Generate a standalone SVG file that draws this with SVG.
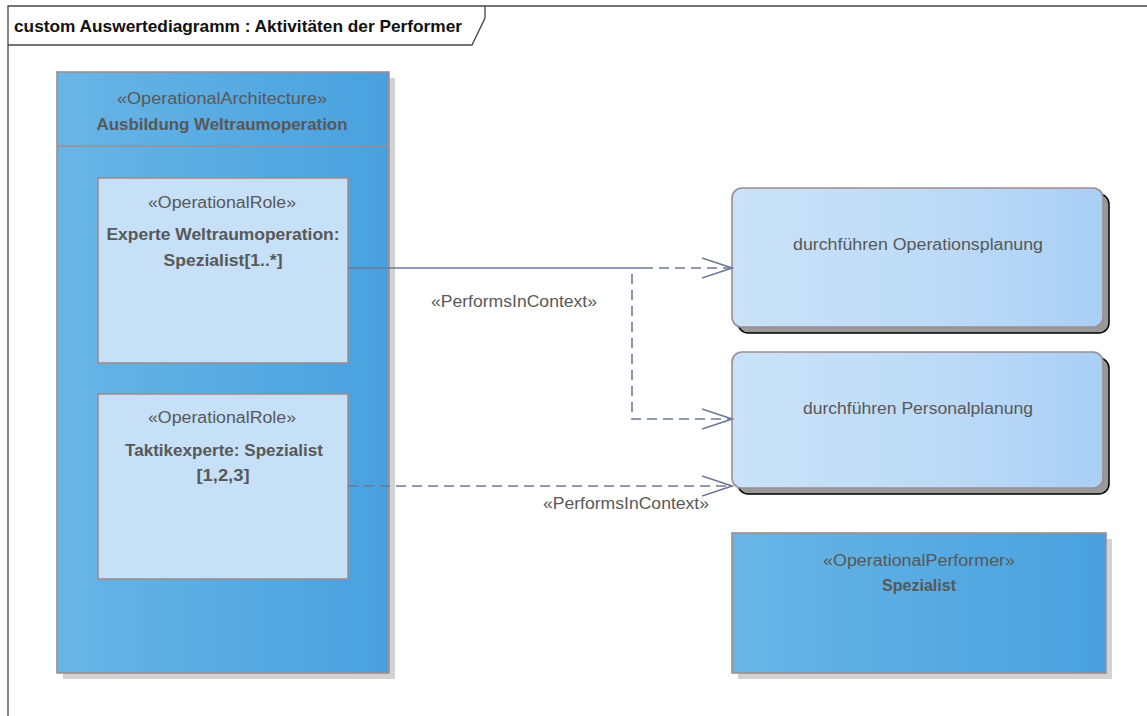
<svg xmlns="http://www.w3.org/2000/svg" width="1147" height="716" viewBox="0 0 1147 716">
<defs>
<linearGradient id="gBlue" x1="0" y1="0" x2="1" y2="0">
<stop offset="0" stop-color="#69b5e6"/>
<stop offset="1" stop-color="#48a1de"/>
</linearGradient>
<linearGradient id="gLight" x1="0" y1="0" x2="1" y2="0">
<stop offset="0" stop-color="#c9e2f8"/>
<stop offset="0.6" stop-color="#bcdaf7"/>
<stop offset="1" stop-color="#a9cff5"/>
</linearGradient>
<marker id="open" markerWidth="32" markerHeight="24" refX="30" refY="11" orient="auto" markerUnits="userSpaceOnUse">
<path d="M0,1 L30,11 L0,21" fill="none" stroke="#6b7899" stroke-width="1.6"/>
</marker>
</defs>
<style>
text{font-family:"Liberation Sans",Arial,sans-serif;font-size:16px;fill:#585858}
.b{font-weight:bold}
.c{text-anchor:middle}
.box{stroke:#a08c8e;stroke-width:1.6}
.shL{fill:#d2d2d2}
.shD{fill:#999;stroke:#000;stroke-width:1.5}
.con{fill:none;stroke:#6b7899;stroke-width:1.6}
.dash{stroke-dasharray:10 6}
</style>
<rect width="1147" height="716" fill="#fff"/>
<g id="frame">
<path d="M8,716 V6 H1147" fill="none" stroke="#444" stroke-width="1.3"/>
<path d="M8,45 H472 L485,18 V6" fill="none" stroke="#444" stroke-width="1.3"/>
<text x="14" y="32" class="b" style="fill:#111;font-size:16.5px" textLength="448" lengthAdjust="spacingAndGlyphs">custom Auswertediagramm : Aktivitäten der Performer</text>
</g>
<g id="arch">
<rect x="63" y="78" width="332" height="601" class="shL"/>
<rect x="57" y="72" width="332" height="601" fill="url(#gBlue)" class="box"/>
<line x1="57" y1="146" x2="389" y2="146" class="box"/>
<text x="222" y="104" class="c" textLength="210" lengthAdjust="spacingAndGlyphs">«OperationalArchitecture»</text>
<text x="222" y="130" class="c b" textLength="251" lengthAdjust="spacingAndGlyphs">Ausbildung Weltraumoperation</text>
</g>
<g id="role1">
<rect x="98" y="178" width="250" height="185" fill="#c6e0f8" class="box"/>
<text x="222" y="208" class="c" textLength="148" lengthAdjust="spacingAndGlyphs">«OperationalRole»</text>
<text x="223" y="240" class="c b" textLength="233" lengthAdjust="spacingAndGlyphs">Experte Weltraumoperation:</text>
<text x="223" y="266" class="c b" textLength="119" lengthAdjust="spacingAndGlyphs">Spezialist[1..*]</text>
</g>
<g id="role2">
<rect x="98" y="394" width="250" height="185" fill="#c6e0f8" class="box"/>
<text x="222" y="423" class="c" textLength="148" lengthAdjust="spacingAndGlyphs">«OperationalRole»</text>
<text x="224" y="456" class="c b" textLength="198" lengthAdjust="spacingAndGlyphs">Taktikexperte: Spezialist</text>
<text x="223" y="481" class="c b" textLength="53" lengthAdjust="spacingAndGlyphs">[1,2,3]</text>
</g>
<g id="act1">
<rect x="738" y="194" width="371" height="139" rx="10" class="shD"/>
<rect x="732" y="188" width="371" height="139" rx="10" fill="url(#gLight)" class="box"/>
<text x="918" y="250" class="c" textLength="250" lengthAdjust="spacingAndGlyphs">durchführen Operationsplanung</text>
</g>
<g id="act2">
<rect x="738" y="358" width="371" height="136" rx="10" class="shD"/>
<rect x="732" y="352" width="371" height="136" rx="10" fill="url(#gLight)" class="box"/>
<text x="918" y="414" class="c" textLength="230" lengthAdjust="spacingAndGlyphs">durchführen Personalplanung</text>
</g>
<g id="performer">
<rect x="738" y="539" width="374" height="140" class="shL"/>
<rect x="732" y="533" width="374" height="140" fill="url(#gBlue)" class="box"/>
<text x="919" y="566" class="c" textLength="192" lengthAdjust="spacingAndGlyphs">«OperationalPerformer»</text>
<text x="919" y="591" class="c b" textLength="74" lengthAdjust="spacingAndGlyphs">Spezialist</text>
</g>
<g id="connectors">
<line x1="348" y1="268" x2="643" y2="268" class="con"/>
<path d="M643,268 H732" class="con dash" marker-end="url(#open)"/>
<path d="M632,274 V419 H732" class="con dash" marker-end="url(#open)"/>
<path d="M348,486 H732" class="con dash" marker-end="url(#open)"/>
<text x="514" y="307" class="c" textLength="166" lengthAdjust="spacingAndGlyphs">«PerformsInContext»</text>
<text x="626" y="509" class="c" textLength="166" lengthAdjust="spacingAndGlyphs">«PerformsInContext»</text>
</g>
</svg>
